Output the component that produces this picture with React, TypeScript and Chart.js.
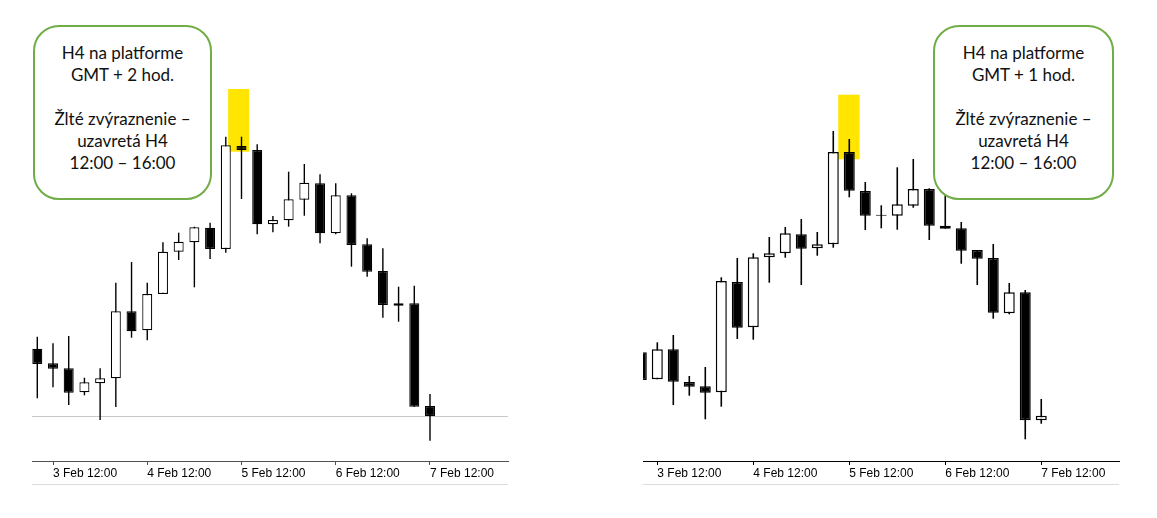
import React, { useEffect, useRef } from 'react';
import { Chart, registerables } from 'chart.js';
Chart.register(...registerables);

// H4 candle times (index 0 .. 25)
const timeLabels = [
  '3 Feb 08:00', '3 Feb 12:00', '3 Feb 16:00', '3 Feb 20:00', '4 Feb 00:00', '4 Feb 04:00',
  '4 Feb 08:00', '4 Feb 12:00', '4 Feb 16:00', '4 Feb 20:00', '5 Feb 00:00', '5 Feb 04:00',
  '5 Feb 08:00', '5 Feb 12:00', '5 Feb 16:00', '5 Feb 20:00', '6 Feb 00:00', '6 Feb 04:00',
  '6 Feb 08:00', '6 Feb 12:00', '6 Feb 16:00', '6 Feb 20:00', '7 Feb 00:00', '7 Feb 04:00',
  '7 Feb 08:00', '7 Feb 12:00',
];
const tickIndices = [1, 7, 13, 19, 25];

// Left panel (GMT + 2)
const leftOpen = [151.3, 136.7, 131.7, 107.7, 116.7, 121.7, 188.7, 169.7, 206, 248.3, 257.7, 272.3, 251, 354, 350, 275.7, 279.7, 300.3, 316.7, 266.7, 304.7, 255.7, 229, 194.3, 196.7, 94];
const leftHigh = [163.3, 156.7, 164, 122.3, 131.7, 217.3, 238, 217.3, 257.7, 267.3, 273.3, 277.3, 363.3, 363.3, 355.7, 284, 328.3, 336, 325.7, 316.7, 306.7, 261.7, 251.7, 213.3, 214.3, 106];
const leftLow = [101.7, 112.7, 95, 104.7, 80, 93, 162.3, 159.7, 206, 240, 212.7, 241, 247.3, 301, 265.7, 267.7, 273.3, 284.3, 256.7, 265.7, 233.3, 223.3, 182.3, 178.3, 93.3, 59.3];
const leftClose = [136, 131.3, 107.3, 117.7, 121.7, 188.7, 168.7, 206, 248.3, 258.3, 272.7, 251, 354.7, 350, 275.7, 280, 300.7, 317.3, 266.7, 304.7, 255, 228.3, 195, 196.7, 93.3, 84];

// Right panel (GMT + 1)
const rightOpen = [147.7, 120.7, 150.7, 118, 113.7, 107.7, 218, 172.7, 242.7, 246.7, 265.7, 251.7, 255.7, 348, 309, 284.3, 284.3, 294.3, 311, 274.3, 271.7, 250, 242, 186.7, 207.7, 79.7];
const rightHigh = [147.7, 157.7, 165, 124, 133, 222.7, 242, 246.7, 263, 273, 281, 268, 369, 361, 318, 294.7, 332.7, 341, 311.7, 307, 278, 250, 256, 217, 210, 101];
const rightLow = [120, 120.7, 95, 104.3, 80.7, 93.3, 161, 160.3, 217.3, 242.3, 215, 244.3, 252.3, 302.7, 270, 271.7, 270.3, 292.3, 260, 271.3, 236.3, 215, 181.3, 185.7, 60.7, 76.3];
const rightClose = [120, 150.7, 118.3, 113.3, 107.3, 219, 172.3, 242.7, 246.7, 266.7, 251.3, 255.7, 348, 309.3, 284.3, 285.3, 295.7, 311, 274.3, 271.3, 249.3, 241.3, 187.3, 207.7, 79.7, 84.3];

const leftBoxLines = ['H4 na platforme', 'GMT + 2 hod.', '', 'Žlté zvýraznenie –', 'uzavretá H4', '12:00 – 16:00'];
const rightBoxLines = ['H4 na platforme', 'GMT + 1 hod.', '', 'Žlté zvýraznenie –', 'uzavretá H4', '12:00 – 16:00'];

// highlighted (closed H4 12:00 – 16:00) candle band, in axis units
const leftHighlight = { from: 12.15, to: 13.48, top: 411, bottom: 348.3 };
const rightHighlight = { from: 12.31, to: 13.65, top: 405.3, bottom: 340.7 };

type Panel = {
  open: number[]; high: number[]; low: number[]; close: number[];
  xMin: number; xMax: number;
  hl: { from: number; to: number; top: number; bottom: number };
  bodyWidth: number; bodyBorder: number; wickWidth: number;
  axisColor: string; priceLine: boolean;
  padL: number; padR: number; width: number;
};

function CandleChart({ p, left }: { p: Panel; left: number }) {
  const ref = useRef<HTMLCanvasElement>(null);
  useEffect(() => {
    const idx = p.open.map((_, i) => i);
    const bodies = idx.map((i) => ({ x: i, y: [p.open[i], p.close[i]] }));
    const wicks = idx.map((i) => ({ x: i, y: [p.low[i], p.high[i]] }));
    const bodyColors = idx.map((i) => (p.close[i] >= p.open[i] ? '#ffffff' : '#000000'));
    const overlay = {
      id: 'overlay',
      beforeDatasetsDraw(chart: any) {
        const { ctx, chartArea, scales } = chart;
        const x = scales.x, y = scales.y;
        ctx.save();
        const x0 = x.getPixelForValue(p.hl.from), x1 = x.getPixelForValue(p.hl.to);
        const y0 = y.getPixelForValue(p.hl.top), y1 = y.getPixelForValue(p.hl.bottom);
        ctx.fillStyle = '#FFE500';
        ctx.fillRect(x0, y0, x1 - x0, y1 - y0);
        if (p.priceLine) {
          const py = Math.round(y.getPixelForValue(p.close[p.close.length - 1])) + 0.5;
          ctx.strokeStyle = '#c8c8c8';
          ctx.lineWidth = 1;
          ctx.beginPath();
          ctx.moveTo(chartArea.left, py);
          ctx.lineTo(chartArea.right, py);
          ctx.stroke();
        }
        ctx.restore();
      },
      afterDraw(chart: any) {
        const { ctx, chartArea } = chart;
        ctx.save();
        ctx.strokeStyle = '#dcdcdc';
        ctx.lineWidth = 1;
        const by = Math.round(chartArea.bottom + 23) + 0.5;
        ctx.beginPath();
        ctx.moveTo(chartArea.left, by);
        ctx.lineTo(chartArea.right, by);
        ctx.stroke();
        ctx.restore();
      },
    };
    const chart = new Chart(ref.current as HTMLCanvasElement, {
      type: 'bar',
      data: {
        datasets: [
          {
            data: bodies as any,
            backgroundColor: bodyColors,
            borderColor: '#000000',
            borderWidth: p.bodyBorder,
            borderSkipped: false,
            barThickness: p.bodyWidth,
            grouped: false,
            clip: 0,
            inflateAmount: 0,
          } as any,
          {
            data: wicks as any,
            backgroundColor: '#000000',
            borderWidth: 0,
            barThickness: p.wickWidth,
            grouped: false,
            clip: 0,
            inflateAmount: 0,
          } as any,
        ],
      },
      options: {
        animation: false,
        responsive: false,
        devicePixelRatio: 1,
        events: [],
        layout: { padding: { left: p.padL, right: p.padR, top: 20, bottom: 0 } },
        plugins: { legend: { display: false }, tooltip: { enabled: false } },
        scales: {
          x: {
            type: 'linear',
            min: p.xMin,
            max: p.xMax,
            offset: false,
            grid: { display: true, drawOnChartArea: false, drawTicks: true, tickLength: 4, tickColor: p.axisColor, offset: false },
            border: { display: true, color: p.axisColor, width: 1 },
            ticks: {
              align: 'start',
              padding: 1,
              color: '#000000',
              maxRotation: 0,
              autoSkip: false,
              font: { family: 'Liberation Sans', size: 12 },
              callback: (v: any) => timeLabels[v as number] ?? null,
            },
            afterBuildTicks: (s: any) => {
              s.ticks = tickIndices.map((v) => ({ value: v }));
            },
            afterFit: (s: any) => {
              s.height = 57;
              s.paddingLeft = 0;
              s.paddingRight = 0;
            },
          } as any,
          y: { display: false, min: 39, max: 480 },
        },
      },
      plugins: [overlay],
    });
    return () => chart.destroy();
  }, []);
  return (
    <canvas
      ref={ref}
      width={p.width}
      height={518}
      style={{ position: 'absolute', left, top: 0, width: p.width, height: 518 }}
    />
  );
}

function NoteBox({ lines, left, width }: { lines: string[]; left: number; width: number }) {
  return (
    <div
      style={{
        position: 'absolute', left, top: 25, width, height: 175, boxSizing: 'border-box',
        border: '2px solid #70AD47', borderRadius: 26, background: '#ffffff',
        fontFamily: 'Lato, "Open Sans", sans-serif', fontSize: 17, lineHeight: '22px',
        textAlign: 'center', color: '#111111', paddingTop: 15,
      }}
    >
      {lines.map((l, i) => (
        <div key={i}>{l || '\u00A0'}</div>
      ))}
    </div>
  );
}

const leftPanel: Panel = {
  open: leftOpen, high: leftHigh, low: leftLow, close: leftClose,
  xMin: -0.337, xMax: 29.966, hl: leftHighlight,
  bodyWidth: 10, bodyBorder: 1.2, wickWidth: 1.4,
  axisColor: '#505050', priceLine: true,
  padL: 32, padR: 37, width: 545,
};

const rightPanel: Panel = {
  open: rightOpen, high: rightHigh, low: rightLow, close: rightClose,
  xMin: 0.106, xMax: 29.86, hl: rightHighlight,
  bodyWidth: 11, bodyBorder: 1.5, wickWidth: 1.6,
  axisColor: '#000000', priceLine: false,
  padL: 53, padR: 38, width: 567,
};

export default function App() {
  return (
    <div style={{ position: 'absolute', left: 0, top: 0, width: 1157, height: 518, background: '#ffffff', overflow: 'hidden' }}>
      <CandleChart p={leftPanel} left={0} />
      <CandleChart p={rightPanel} left={590} />
      <NoteBox lines={leftBoxLines} left={33} width={179} />
      <NoteBox lines={rightBoxLines} left={933} width={181} />
    </div>
  );
}
